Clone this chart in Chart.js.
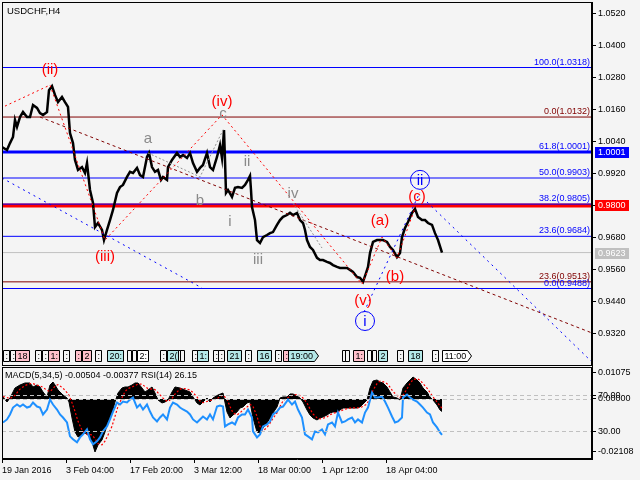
<!DOCTYPE html>
<html lang="en">
<head>
  <meta charset="UTF-8">
  <title>USDCHF,H4</title>
  <script src="https://cdn.jsdelivr.net/npm/chart.js"></script>
  <style>
    html, body { margin: 0; padding: 0; background: #f4f4f4; }
    #wrap { position: relative; width: 640px; height: 480px; overflow: hidden; }
    #main { position: absolute; left: 0; top: 0; }
    #sub { position: absolute; left: 0; top: 366px; }
  </style>
</head>
<body>
<div id="wrap">
  <canvas id="main" width="640" height="367"></canvas>
  <canvas id="sub" width="640" height="114"></canvas>
</div>
<script>
// ---- price window ----
const priceTicks = [1.0520, 1.0400, 1.0280, 1.0160, 1.0040, 0.9920, 0.9800, 0.9680, 0.9560, 0.9440, 0.9320];

const priceBars = [0,5,8,11,13,15,18,21,25,28,31,35,38,41,45,47,50,53,56,60,63,66,68,71,73,76,80,83,85,88,
  91,93,96,100,102,105,108,111,115,118,121,125,128,131,135,138,141,145,147,150,153,156,159,161,165,166,170,175,178,181,
  185,188,191,195,198,201,205,208,211,215,218,220,222,223,224,226,230,233,236,240,243,246,248,249,250,253,255,258,261,265,
  268,271,275,278,281,285,288,291,295,298,301,303,305,308,311,315,318,321,325,328,331,335,338,341,345,348,351,355,358,361,
  364,366,368,371,375,378,381,385,388,391,395,398,400,403,406,410,413,416,420,423,426,430,433,436,440];
const priceClose = [1.0019,1.0008,1.0034,1.0057,1.0121,1.0095,1.0132,1.0151,1.0132,1.0132,
  1.0177,1.0166,1.0147,1.0140,1.0151,1.0233,1.0248,1.0215,1.0188,1.0207,
  1.0188,1.0170,1.0072,1.0034,0.9971,0.9933,0.9944,0.9922,0.9959,0.9858,
  0.9809,0.9719,0.9734,0.9708,0.9670,0.9708,0.9745,0.9783,0.9847,0.9869,
  0.9877,0.9907,0.9926,0.9922,0.9941,0.9914,0.9907,0.9982,0.9997,0.9944,
  0.9926,0.9933,0.9896,0.9907,0.9896,0.9944,0.9971,0.9997,0.9982,0.9989,
  0.9978,0.9997,0.9959,0.9926,0.9941,0.9952,0.9997,0.9944,0.9933,0.9982,
  1.0027,0.9978,1.0083,0.9971,0.9847,0.9858,0.9832,0.9866,0.9869,0.9866,
  0.9877,0.9896,0.9911,0.9858,0.9794,0.9745,0.9670,0.9659,0.9681,0.9689,
  0.9696,0.9700,0.9727,0.9745,0.9757,0.9764,0.9772,0.9764,0.9772,0.9745,
  0.9734,0.9708,0.9670,0.9644,0.9633,0.9603,0.9595,0.9595,0.9588,0.9584,
  0.9576,0.9569,0.9565,0.9565,0.9565,0.9558,0.9550,0.9531,0.9528,0.9513,
  0.9546,0.9569,0.9621,0.9663,0.9670,0.9670,0.9670,0.9663,0.9644,0.9633,
  0.9606,0.9621,0.9681,0.9715,0.9738,0.9772,0.9787,0.9757,0.9745,0.9745,
  0.9734,0.9727,0.9696,0.9670,0.9623];

const fibBlueLevels = [1.0318, 1.0001, 0.9903, 0.9805, 0.9684, 0.9488];
const fibBlueNames = ['100.0', '61.8', '50.0', '38.2', '23.6', '0.0'];
const fibRedLevels = [1.0132, 0.9513];
const fibRedNames = ['0.0', '23.6'];
const markBlue = 1.0001;
const markRed = 0.9800;
const lastPrice = 0.9623;

// elliott wave paths (bar, price)
const waveBars = [3, 48, 103, 220, 360, 380, 395, 413];
const wavePrices = [1.0173, 1.0252, 0.9670, 1.0140, 0.9505, 0.9681, 0.9603, 0.9790];
const subWaveBars = [146, 198, 222];
const subWavePrices = [0.9997, 0.9907, 1.0091];
const minorBars = [291, 320];
const minorPrices = [0.9809, 0.9640];
const blueTrendBars = [[0, 200], [362, 418], [425, 590]];
const blueTrendPrices = [[0.9903, 0.9490], [0.9400, 0.9850], [0.9813, 0.9212]];
const redTrendBars = [38, 590];
const redTrendPrices = [1.0132, 0.9321];

const redLabels = [['(ii)', 48, 1.0309], ['(iii)', 103, 0.9606], ['(iv)', 220, 1.0188], ['(v)', 361, 0.9441],
  ['(a)', 378, 0.9742], ['(b)', 393, 0.9531], ['(c)', 415, 0.9832]];
const grayLabels = [['a', 146, 1.0050], ['b', 198, 0.9817], ['c', 221, 1.0143], ['i', 228, 0.9738],
  ['ii', 245, 0.9963], ['iii', 256, 0.9595], ['iv', 291, 0.9843]];
const circleLabels = [['ii', 418, 0.9896], ['i', 363, 0.9366]];

const tagBars = [1,8,13,33,40,46,61,73,80,93,105,125,130,135,158,165,176,178,190,195,211,216,225,243,255,273,281,286,340,343,351,365,370,376,395,406,430,440];
const tagTexts = [':',':','18',':',':','1:',':',':','2',':','20:','','','2:',':','2(','','',':','1:',':',':','21',':','16',':',':','19:00','','','1:','','','2',':','18',':','11:00'];
const tagKinds = ['n','n','p','n','n','p','n','p','p','n','c','n','n','w','n','c','n','n','n','c','n','n','c','n','c','n','p','c','n','n','p','n','n','c','n','c','n','w'];

// ---- indicator window ----
const timeTicks = [0, 64, 128, 192, 256, 320, 384];
const timeLabels = ['19 Jan 2016', '3 Feb 04:00', '17 Feb 20:00', '3 Mar 12:00', '18 Mar 00:00', '1 Apr 12:00', '18 Apr 04:00'];

const macdBars = [1,5,8,13,18,23,28,31,35,38,41,45,48,51,53,56,61,65,67,70,73,76,80,83,86,90,93,96,100,103,
  106,110,113,116,120,123,126,130,133,136,140,143,146,150,153,156,160,163,166,170,173,178,183,188,191,195,198,201,205,208,
  211,216,221,225,228,231,235,238,241,245,248,251,255,258,261,265,268,271,275,278,281,285,288,291,295,298,301,305,308,311,
  315,318,321,325,328,331,335,338,341,345,348,351,355,358,361,365,368,371,375,378,381,385,388,391,395,398,401,405,408,411,
  415,418,421,425,428,431,435,438,440];
const macdMain = [0.00081,-0.00121,0.00040,0.00443,0.00564,0.00645,0.00645,0.00484,0.00564,0.00484,
  0.00282,0.00081,0.00564,0.00685,0.00564,0.00363,0.00161,0.00040,-0.00121,-0.00766,
  -0.01330,-0.01531,-0.01451,-0.01370,-0.01451,-0.01733,-0.02136,-0.01854,-0.01652,-0.01330,
  -0.00927,-0.00564,-0.00121,0.00242,0.00443,0.00484,0.00484,0.00564,0.00645,0.00645,
  0.00443,0.00282,0.00363,0.00484,0.00242,-0.00040,-0.00161,-0.00121,-0.00040,0.00282,
  0.00484,0.00443,0.00363,0.00282,0.00081,-0.00161,-0.00242,-0.00121,0.00040,-0.00121,
  0.00040,0.00161,0.00242,-0.00524,-0.00766,-0.00645,-0.00524,-0.00363,-0.00322,-0.00161,
  -0.00121,-0.00766,-0.01330,-0.01370,-0.01169,-0.00967,-0.00766,-0.00564,-0.00322,0.00040,
  0.00081,0.00081,0.00202,0.00202,0.00121,0.00040,-0.00121,-0.00443,-0.00645,-0.00766,
  -0.00846,-0.00766,-0.00725,-0.00645,-0.00564,-0.00524,-0.00524,-0.00443,-0.00363,-0.00363,
  -0.00363,-0.00363,-0.00363,-0.00322,-0.00202,-0.00040,0.00443,0.00725,0.00766,0.00685,
  0.00645,0.00484,0.00282,0.00081,0.00040,-0.00040,0.00443,0.00645,0.00766,0.00887,
  0.00766,0.00645,0.00443,0.00282,0.00081,-0.00040,-0.00242,-0.00443,-0.00504];
const macdSignal = [0.00100,0.00060,0.00010,0.00150,0.00400,0.00540,0.00620,0.00620,0.00560,0.00530,
  0.00470,0.00350,0.00300,0.00420,0.00520,0.00580,0.00440,0.00260,0.00150,-0.00150,
  -0.00500,-0.00900,-0.01250,-0.01400,-0.01430,-0.01450,-0.01600,-0.01800,-0.01850,-0.01700,
  -0.01450,-0.01100,-0.00700,-0.00300,0.00050,0.00300,0.00420,0.00480,0.00540,0.00600,
  0.00600,0.00500,0.00420,0.00400,0.00380,0.00250,0.00080,-0.00050,-0.00100,0.00020,
  0.00200,0.00400,0.00420,0.00360,0.00260,0.00080,-0.00080,-0.00150,-0.00100,-0.00060,
  -0.00040,0.00040,0.00160,0.00000,-0.00300,-0.00560,-0.00640,-0.00560,-0.00440,-0.00320,
  -0.00220,-0.00300,-0.00700,-0.01100,-0.01280,-0.01150,-0.00980,-0.00780,-0.00560,-0.00300,
  -0.00080,0.00040,0.00100,0.00160,0.00180,0.00130,0.00040,-0.00160,-0.00400,-0.00600,
  -0.00760,-0.00800,-0.00780,-0.00720,-0.00640,-0.00580,-0.00540,-0.00500,-0.00440,-0.00390,
  -0.00370,-0.00360,-0.00360,-0.00350,-0.00300,-0.00200,0.00050,0.00350,0.00620,0.00720,
  0.00700,0.00620,0.00480,0.00300,0.00150,0.00050,0.00150,0.00400,0.00620,0.00780,
  0.00820,0.00760,0.00620,0.00440,0.00260,0.00080,-0.00120,-0.00280,-0.00377];
const macdTicks = [0.01075, 0, -0.02108];

const rsiBars = [1,5,8,11,15,18,21,25,28,31,35,38,41,45,48,51,55,58,61,65,68,71,75,78,81,85,88,91,95,98,
  101,105,108,111,115,118,121,125,128,131,135,138,141,145,148,151,155,158,161,165,168,171,175,178,181,185,188,191,195,198,
  201,205,208,211,215,218,221,223,226,230,233,236,240,243,246,250,251,255,258,261,265,268,271,275,278,281,286,290,293,296,
  300,303,306,310,313,316,320,323,326,330,333,336,340,343,346,350,353,356,360,363,366,370,373,376,380,383,386,390,393,396,
  400,401,405,408,411,415,418,421,425,428,431,435,438,440];
const rsiValues = [39.7,43.0,48.4,55.9,59.2,57.0,59.2,55.9,57.0,61.4,
  57.0,55.9,48.4,53.8,64.6,59.2,53.8,48.4,45.1,39.7,
  24.6,21.4,18.1,23.5,26.8,32.2,21.4,16.0,19.2,23.5,
  30.0,35.4,43.0,51.6,61.4,59.2,62.4,61.4,64.6,66.8,
  55.9,59.2,53.8,59.2,51.6,45.1,40.8,45.1,48.4,43.0,
  55.9,61.4,59.2,55.9,53.8,51.6,48.4,43.0,39.7,43.0,
  46.2,43.0,48.4,43.0,57.0,58.0,57.0,35.4,37.6,39.7,
  37.6,45.1,48.4,48.4,53.8,45.1,30.0,23.5,26.8,35.4,
  37.6,40.8,48.4,51.6,55.9,57.0,64.6,59.2,62.4,53.8,
  45.1,26.8,24.6,21.4,30.0,28.9,32.2,26.8,37.6,39.7,
  35.4,50.5,39.7,40.8,43.0,45.1,39.7,43.0,39.7,50.5,
  55.9,72.2,66.8,66.8,67.8,62.4,55.9,46.2,39.7,40.8,
  45.1,66.8,70.0,66.8,64.6,62.4,59.2,55.9,50.5,48.4,
  39.7,34.3,28.9,26.15];
const rsiLevels = [70, 30];

const FONT = '"Liberation Sans", Arial, sans-serif';
Chart.defaults.font.family = FONT;
Chart.defaults.font.size = 9;
Chart.defaults.color = '#000';

const pts = (xs, ys) => xs.map((x, i) => ({ x: x, y: ys[i] }));
const flat = v => [{ x: 0, y: v }, { x: 590, y: v }];

function line(data, color, width, dash, order) {
  return { data: data, borderColor: color, borderWidth: width, borderDash: dash || [], pointRadius: 0, fill: false, order: order };
}

function drawFrame(chart) {
  const { ctx, chartArea: a } = chart;
  ctx.save();
  ctx.strokeStyle = '#000';
  ctx.lineWidth = 1;
  ctx.strokeRect(a.left + 0.5, a.top + 0.5, a.right - a.left - 1, a.bottom - a.top - 1);
  ctx.restore();
}

const tagFill = { n: '#f4f4f4', p: '#ffc0cb', c: '#b4e8e8', w: '#ffffff' };

function drawTags(chart) {
  const { ctx, chartArea: a, scales: { x } } = chart;
  const top = a.bottom - 15.5, h = 11;
  ctx.save();
  ctx.font = '9px ' + FONT;
  ctx.textBaseline = 'middle';
  ctx.textAlign = 'left';
  ctx.lineWidth = 1;
  tagBars.forEach((bar, i) => {
    const px = Math.round(x.getPixelForValue(bar)) + 0.5;
    const text = tagTexts[i];
    const w = Math.max(4, Math.ceil(ctx.measureText(text).width) + 3);
    ctx.fillStyle = tagFill[tagKinds[i]];
    ctx.strokeStyle = '#000';
    ctx.beginPath();
    if (text.length > 3) {
      // the long time stamps end with an arrow tip
      ctx.moveTo(px, top); ctx.lineTo(px + w, top); ctx.lineTo(px + w + 4, top + h / 2);
      ctx.lineTo(px + w, top + h); ctx.lineTo(px, top + h); ctx.closePath();
    } else {
      ctx.rect(px, top, w, h);
    }
    ctx.fill();
    ctx.stroke();
    ctx.fillStyle = '#000';
    ctx.fillText(text, px + 2, top + h / 2 + 0.5);
  });
  ctx.restore();
}

const mainDecor = {
  id: 'mainDecor',
  afterDatasetsDraw(chart) {
    const { ctx, chartArea: a, scales: { x, y } } = chart;
    ctx.save();
    // fibo level captions
    ctx.font = '9px ' + FONT;
    ctx.textAlign = 'right';
    ctx.textBaseline = 'alphabetic';
    ctx.fillStyle = '#0000ff';
    fibBlueLevels.forEach((v, i) => ctx.fillText(fibBlueNames[i] + '(' + v.toFixed(4) + ')', a.right - 2, y.getPixelForValue(v) - 3));
    ctx.fillStyle = '#800000';
    fibRedLevels.forEach((v, i) => ctx.fillText(fibRedNames[i] + '(' + v.toFixed(4) + ')', a.right - 2, y.getPixelForValue(v) - 3));

    // wave labels
    ctx.font = '15px ' + FONT;
    ctx.textAlign = 'center';
    ctx.textBaseline = 'middle';
    ctx.fillStyle = '#ff0000';
    redLabels.forEach(l => ctx.fillText(l[0], x.getPixelForValue(l[1]), y.getPixelForValue(l[2])));
    ctx.fillStyle = '#8a8a8a';
    grayLabels.forEach(l => ctx.fillText(l[0], x.getPixelForValue(l[1]), y.getPixelForValue(l[2])));
    ctx.strokeStyle = '#0000ff';
    ctx.fillStyle = '#0000ff';
    ctx.lineWidth = 1;
    circleLabels.forEach(l => {
      const cx = x.getPixelForValue(l[1]), cy = y.getPixelForValue(l[2]);
      ctx.beginPath();
      ctx.arc(cx, cy, 9.5, 0, Math.PI * 2);
      ctx.stroke();
      ctx.fillText(l[0], cx, cy + 1);
    });

    drawTags(chart);

    ctx.font = '9.5px ' + FONT;
    ctx.textAlign = 'left';
    ctx.fillStyle = '#000';
    ctx.fillText('USDCHF,H4', a.left + 5, a.top + 9);
    ctx.restore();
  },
  afterDraw(chart) {
    drawFrame(chart);
    const { ctx, chartArea: a, scales: { y } } = chart;
    ctx.save();
    ctx.font = '9px ' + FONT;
    ctx.textAlign = 'left';
    ctx.textBaseline = 'middle';
    [[markBlue, '#0000ff'], [markRed, '#ff0000'], [lastPrice, '#c0c0c0']].forEach(m => {
      const py = Math.round(y.getPixelForValue(m[0]));
      ctx.fillStyle = m[1];
      ctx.fillRect(a.right + 3, py - 5, 34, 11);
      ctx.fillStyle = '#fff';
      ctx.fillText(m[0].toFixed(4), a.right + 6, py + 1);
    });
    ctx.restore();
  }
};

const mainDatasets = [
  line(pts(waveBars, wavePrices), '#ff0000', 1, [2, 3], 0),
  line(pts(subWaveBars, subWavePrices), '#909090', 1, [2, 2], 0),
  line(pts(minorBars, minorPrices), '#909090', 1, [2, 2], 0),
  ...blueTrendBars.map((b, i) => line(pts(b, blueTrendPrices[i]), '#0000ff', 1, [2, 4], 0)),
  line(pts(redTrendBars, redTrendPrices), '#800000', 1, [3, 3], 0),
  line(pts(priceBars, priceClose), '#000000', 2.5, [], 1),
  ...fibBlueLevels.map(v => line(flat(v), '#0000ff', 1, [], 2)),
  ...fibRedLevels.map(v => line(flat(v), '#800000', 1, [], 2)),
  line(flat(markBlue), '#0000ff', 3, [], 2),
  line(flat(markRed), '#ff0000', 4, [], 2),
  line(flat(lastPrice), '#c0c0c0', 1, [], 3)
];

new Chart(document.getElementById('main'), {
  type: 'line',
  data: { datasets: mainDatasets },
  options: {
    responsive: false,
    animation: false,
    events: [],
    layout: { padding: { left: 2, top: 2, right: 0, bottom: 1 } },
    plugins: { legend: { display: false }, tooltip: { enabled: false } },
    scales: {
      x: { type: 'linear', min: 0, max: 590, display: false },
      y: {
        position: 'right',
        min: 0.9197,
        max: 1.0564,
        afterBuildTicks: s => { s.ticks = priceTicks.map(v => ({ value: v })); },
        afterFit: s => { s.width = 48; s.paddingTop = 0; s.paddingBottom = 0; },
        ticks: { callback: v => v.toFixed(4), autoSkip: false, padding: 2, color: '#000' },
        grid: { drawOnChartArea: false, drawTicks: true, tickLength: 4, tickColor: '#000' },
        border: { display: true, color: '#000' }
      }
    }
  },
  plugins: [mainDecor]
});

const subDecor = {
  id: 'subDecor',
  afterDatasetsDraw(chart) {
    const { ctx, chartArea: a, scales } = chart;
    ctx.save();
    ctx.strokeStyle = '#c0c0c0';
    ctx.lineWidth = 1;
    ctx.setLineDash([4, 3]);
    const levelPx = rsiLevels.map(v => scales.rsi.getPixelForValue(v)).concat([scales.macd.getPixelForValue(0)]);
    levelPx.forEach(py => {
      const yy = Math.round(py) + 0.5;
      ctx.beginPath();
      ctx.moveTo(a.left, yy);
      ctx.lineTo(a.right, yy);
      ctx.stroke();
    });
    ctx.setLineDash([]);
    ctx.font = '9px ' + FONT;
    ctx.fillStyle = '#000';
    ctx.textBaseline = 'middle';
    ctx.textAlign = 'left';
    ctx.fillText('MACD(5,34,5) -0.00504 -0.00377 RSI(14) 26.15', a.left + 3, a.top + 9);
    ctx.restore();
  },
  afterDraw(chart) {
    drawFrame(chart);
    // RSI levels share the right-hand price column with the MACD scale
    const { ctx, chartArea: a, scales } = chart;
    ctx.save();
    ctx.font = '9px ' + FONT;
    ctx.fillStyle = '#000';
    ctx.strokeStyle = '#000';
    ctx.lineWidth = 1;
    ctx.textBaseline = 'middle';
    ctx.textAlign = 'left';
    rsiLevels.forEach(v => {
      const yy = Math.round(scales.rsi.getPixelForValue(v)) + 0.5;
      ctx.beginPath();
      ctx.moveTo(a.right, yy);
      ctx.lineTo(a.right + 4, yy);
      ctx.stroke();
      ctx.fillText(v.toFixed(2), a.right + 6, yy);
    });
    ctx.restore();
  }
};

new Chart(document.getElementById('sub'), {
  type: 'line',
  data: {
    datasets: [
      Object.assign(line(pts(rsiBars, rsiValues), '#1e90ff', 2, [], 0), { yAxisID: 'rsi' }),
      Object.assign(line(pts(macdBars, macdSignal), '#ff0000', 1.2, [2, 2], 1), { yAxisID: 'macd' }),
      Object.assign(line(pts(macdBars, macdMain), '#000000', 1, [], 2),
        { yAxisID: 'macd', fill: { value: 0 }, backgroundColor: '#000000' })
    ]
  },
  options: {
    responsive: false,
    animation: false,
    events: [],
    layout: { padding: { left: 2, top: 1, right: 0, bottom: 0 } },
    plugins: { legend: { display: false }, tooltip: { enabled: false } },
    scales: {
      x: {
        type: 'linear',
        min: 0,
        max: 590,
        afterBuildTicks: s => { s.ticks = timeTicks.map(v => ({ value: v })); },
        afterFit: s => { s.height = 21; s.paddingLeft = 0; s.paddingRight = 0; },
        ticks: { callback: (v, i) => timeLabels[i], align: 'start', autoSkip: false, maxRotation: 0, padding: 2, color: '#000' },
        grid: { drawOnChartArea: false, tickLength: 4, tickColor: '#000' },
        border: { display: true, color: '#000' }
      },
      rsi: { axis: 'y', type: 'linear', position: 'right', display: false, min: 0, max: 100 },
      macd: {
        axis: 'y',
        type: 'linear',
        position: 'right',
        min: -0.0242,
        max: 0.0129,
        afterBuildTicks: s => { s.ticks = macdTicks.map(v => ({ value: v })); },
        afterFit: s => { s.width = 48; s.paddingTop = 0; s.paddingBottom = 0; },
        ticks: { callback: v => v.toFixed(5), autoSkip: false, padding: 2, color: '#000' },
        grid: { drawOnChartArea: false, tickLength: 4, tickColor: '#000' },
        border: { display: true, color: '#000' }
      }
    }
  },
  plugins: [subDecor]
});
</script>
</body>
</html>
